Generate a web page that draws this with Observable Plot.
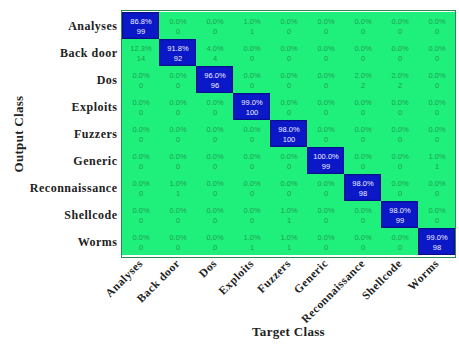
<!DOCTYPE html>
<html><head><meta charset="utf-8">
<script src="https://cdn.jsdelivr.net/npm/d3@7"></script>
<script src="https://cdn.jsdelivr.net/npm/@observablehq/plot@0.6"></script>
<style>
body{margin:0;background:#fff}
g[aria-label="x-axis tick label"] text, g[aria-label="y-axis tick label"] text{letter-spacing:0.5px}
g[aria-label="x-axis label"] text, g[aria-label="y-axis label"] text{font-size:13px;letter-spacing:0.3px}
</style>
</head><body><div id="chart"></div>
<script>
const classes = ["Analyses","Back door","Dos","Exploits","Fuzzers","Generic","Reconnaissance","Shellcode","Worms"];
// rows = Output Class, columns = Target Class
const pctRows = [
  [86.8, 0.0, 0.0, 1.0, 0.0, 0.0, 0.0, 0.0, 0.0],
  [12.3, 91.8, 4.0, 0.0, 0.0, 0.0, 0.0, 0.0, 0.0],
  [0.0, 0.0, 96.0, 0.0, 0.0, 0.0, 2.0, 2.0, 0.0],
  [0.0, 0.0, 0.0, 99.0, 0.0, 0.0, 0.0, 0.0, 0.0],
  [0.0, 0.0, 0.0, 0.0, 98.0, 0.0, 0.0, 0.0, 0.0],
  [0.0, 0.0, 0.0, 0.0, 0.0, 100.0, 0.0, 0.0, 1.0],
  [0.0, 1.0, 0.0, 0.0, 0.0, 0.0, 98.0, 0.0, 0.0],
  [0.0, 0.0, 0.0, 0.0, 1.0, 0.0, 0.0, 98.0, 0.0],
  [0.0, 0.0, 0.0, 1.0, 1.0, 0.0, 0.0, 0.0, 99.0]
];
const countRows = [
  [99, 0, 0, 1, 0, 0, 0, 0, 0],
  [14, 92, 4, 0, 0, 0, 0, 0, 0],
  [0, 0, 96, 0, 0, 0, 2, 2, 0],
  [0, 0, 0, 100, 0, 0, 0, 0, 0],
  [0, 0, 0, 0, 100, 0, 0, 0, 0],
  [0, 0, 0, 0, 0, 99, 0, 0, 1],
  [0, 1, 0, 0, 0, 0, 98, 0, 0],
  [0, 0, 0, 0, 1, 0, 0, 99, 0],
  [0, 0, 0, 1, 1, 0, 0, 0, 98]
];
const cells = [];
classes.forEach((out, i) => classes.forEach((tgt, j) => cells.push({
  output: out, target: tgt, pct: pctRows[i][j], count: countRows[i][j], diag: i === j
})));
const chart = Plot.plot({
  width: 459, height: 345,
  marginLeft: 121, marginRight: 4, marginTop: 10, marginBottom: 88,
  style: {fontFamily: "Liberation Serif", background: "white", color: "#222"},
  x: {domain: classes, padding: 0, label: null},
  y: {domain: classes, padding: 0, label: null},
  marks: [
    Plot.cell(cells, {x: "target", y: "output", fill: d => d.diag ? "#0b18c8" : "#1ff07c", inset: 0}),
    Plot.cell(cells.filter(d => d.diag), {x: "target", y: "output", fill: "none", stroke: "#07108a", strokeWidth: 1.2, inset: 0.6}),
    Plot.text(cells, {x: "target", y: "output", text: d => `${d.pct.toFixed(1)}%\n${d.count}`,
      fill: d => d.diag ? "#f0f2ff" : "#1f9e50", fontSize: 7.5, lineHeight: 1.3, fontFamily: "Liberation Sans"}),
    Plot.frame({stroke: "#2a8a50", strokeWidth: 1}),
    Plot.axisX({tickRotate: -45, tickSize: 0, tickPadding: 4, fontSize: 11.5, fontWeight: "bold",
      label: "Target Class", labelAnchor: "center", labelOffset: 78}),
    Plot.axisY({tickSize: 0, tickPadding: 4, fontSize: 12, fontWeight: "bold",
      label: "Output Class", labelAnchor: "center", labelOffset: 108})
  ]
});
document.getElementById("chart").append(chart);
</script>
</body></html>
